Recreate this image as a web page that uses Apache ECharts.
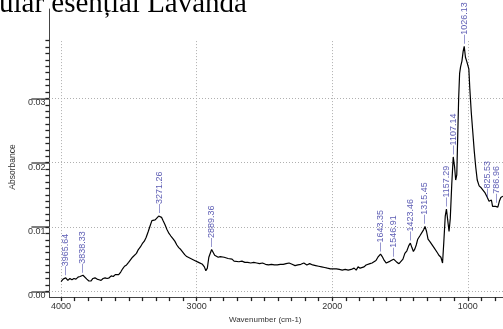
<!DOCTYPE html>
<html>
<head>
<meta charset="utf-8">
<script src="https://cdn.jsdelivr.net/npm/echarts@6/dist/echarts.min.js"></script>
<style>
  html, body { margin: 0; padding: 0; background: #fff; }
  #chart { width: 503px; height: 329px; }
</style>
</head>
<body>
<div id="chart"></div>
<script>
// FTIR spectrum: wavenumber (cm-1) and absorbance
const titleText = 'ular esențial Lavandă';

const wavenumber = [
  4000, 3985, 3975, 3965.64, 3950, 3935, 3920, 3905, 3890, 3875, 3860, 3850, 3838.33, 3825, 3810, 3795,
  3780, 3765, 3750, 3735, 3720, 3705, 3690, 3675, 3660, 3645, 3630, 3615, 3600, 3590, 3575, 3560,
  3546, 3532, 3517, 3502, 3488, 3473, 3459, 3444, 3430, 3415, 3401, 3386, 3372, 3357, 3343, 3330,
  3317, 3306, 3292, 3280, 3271.26, 3259, 3248, 3234, 3219, 3204, 3190, 3175, 3161, 3146, 3132, 3117,
  3103, 3088, 3073, 3059, 3044, 3030, 3015, 3001, 2986, 2972, 2957, 2943, 2932, 2921, 2910, 2889.36,
  2878, 2867, 2855, 2841, 2826, 2812, 2797, 2783, 2768, 2754, 2739, 2724, 2710, 2688, 2666, 2644,
  2623, 2601, 2579, 2557, 2536, 2514, 2492, 2470, 2448, 2427, 2405, 2383, 2361, 2340, 2318, 2296,
  2274, 2253, 2231, 2209, 2187, 2166, 2144, 2122, 2100, 2078, 2056, 2035, 2013, 1991, 1969, 1947,
  1926, 1904, 1882, 1860, 1838, 1823, 1809, 1794, 1780, 1765, 1750, 1736, 1721, 1706, 1692, 1677,
  1663, 1652, 1643.35, 1631, 1616, 1601, 1587, 1572, 1558, 1546.91, 1537, 1522, 1507, 1493, 1478, 1464,
  1449, 1435, 1423.46, 1412, 1401, 1390, 1380, 1369, 1354, 1340, 1325, 1315.45, 1304, 1293, 1278, 1264,
  1249, 1235, 1224, 1213, 1198, 1186, 1177, 1166, 1157.29, 1148, 1138, 1129, 1118, 1107.14, 1097, 1089,
  1081, 1074, 1067, 1060, 1053, 1043, 1034, 1026.13, 1017, 1008, 999, 992, 985, 974, 963, 952,
  941, 930, 916, 901, 887, 872, 858, 843, 825.53, 817, 806, 795, 786.96, 778, 767, 756, 741
];

const absorbance = [
  0.0015, 0.0019, 0.0016, 0.0021, 0.0017, 0.0020, 0.0018, 0.0020, 0.0019, 0.0022, 0.0023, 0.0022, 0.0025, 0.0022, 0.0019, 0.0016,
  0.0016, 0.0020, 0.0021, 0.0019, 0.0018, 0.0017, 0.0020, 0.0021, 0.0020, 0.0021, 0.0024, 0.0023, 0.0026, 0.0027, 0.0026, 0.0030,
  0.0035, 0.0039, 0.0041, 0.0045, 0.0048, 0.0053, 0.0054, 0.0059, 0.0065, 0.0069, 0.0074, 0.0078, 0.0084, 0.0093, 0.0102, 0.0110,
  0.0113, 0.0111, 0.0114, 0.0117, 0.0118, 0.0115, 0.0110, 0.0104, 0.0096, 0.0090, 0.0086, 0.0082, 0.0078, 0.0072, 0.0068, 0.0065,
  0.0062, 0.0057, 0.0054, 0.0053, 0.0051, 0.0049, 0.0048, 0.0047, 0.0045, 0.0044, 0.0042, 0.0038, 0.0032, 0.0036, 0.0053, 0.0065,
  0.0062, 0.0056, 0.0057, 0.0053, 0.0054, 0.0051, 0.0053, 0.0050, 0.0051, 0.0049, 0.0050, 0.0047, 0.0048, 0.0046, 0.0047, 0.0045,
  0.0045, 0.0044, 0.0045, 0.0044, 0.0043, 0.0044, 0.0042, 0.0041, 0.0042, 0.0041, 0.0041, 0.0042, 0.0042, 0.0043, 0.0044, 0.0042,
  0.0040, 0.0041, 0.0042, 0.0044, 0.0041, 0.0043, 0.0041, 0.0040, 0.0039, 0.0038, 0.0037, 0.0036, 0.0035, 0.0035, 0.0035, 0.0034,
  0.0033, 0.0034, 0.0033, 0.0034, 0.0036, 0.0033, 0.0038, 0.0036, 0.0039, 0.0038, 0.0041, 0.0041, 0.0043, 0.0044, 0.0045, 0.0048,
  0.0053, 0.0056, 0.0058, 0.0054, 0.0048, 0.0044, 0.0045, 0.0047, 0.0048, 0.0050, 0.0048, 0.0045, 0.0043, 0.0044, 0.0050, 0.0059,
  0.0063, 0.0071, 0.0075, 0.0068, 0.0062, 0.0066, 0.0072, 0.0081, 0.0086, 0.0089, 0.0096, 0.0101, 0.0093, 0.0081, 0.0077, 0.0075,
  0.0068, 0.0066, 0.0060, 0.0056, 0.0053, 0.0044, 0.0075, 0.0117, 0.0128, 0.0111, 0.0093, 0.0113, 0.0166, 0.0209, 0.0193, 0.0173,
  0.0181, 0.0241, 0.0301, 0.0339, 0.0349, 0.0358, 0.0373, 0.0381, 0.0364, 0.0358, 0.0358, 0.0346, 0.0316, 0.0278, 0.0248, 0.0218,
  0.0193, 0.0173, 0.0164, 0.0161, 0.0158, 0.0153, 0.0147, 0.0140, 0.0142, 0.0132, 0.0130, 0.0132, 0.0134, 0.0131, 0.0140, 0.0146, 0.0148
];

// Labelled peak positions
const peakWavenumbers = [3965.64, 3838.33, 3271.26, 2889.36, 1643.35, 1546.91, 1423.46, 1315.45, 1157.29, 1107.14, 1026.13, 825.53, 786.96];

// Axis tick labels
const xTickLabels = [4000, 3000, 2000, 1000];
const yTickLabels = [0, 0.01, 0.02, 0.03];

const xMinorTicks = [];
for (let w = 800; w <= 4000; w += 100) xMinorTicks.push(w);
const yMinorTicks = [];
for (let i = 0; i <= 39; i++) yMinorTicks.push(+(i * 0.001).toFixed(3));

const spectrum = wavenumber.map((w, i) => [w, absorbance[i]]);
const peaks = peakWavenumbers.map(w => {
  const item = { value: [w, absorbance[wavenumber.indexOf(w)]] };
  // the 825.53 label sits a little to the left so it clears its neighbour
  if (w === 825.53) item.label = { offset: [0, -4] };
  return item;
});

const X_MIN = 740, X_MAX = 4086, Y_MIN = -0.0009, Y_MAX = 0.0439, GRID_TOP_VALUE = 0.039;
const axisFont = '"Liberation Sans", Arial, sans-serif';
const gridStyle = { type: [1, 2], color: '#b0b0b0', width: 1 };

const chart = echarts.init(document.getElementById('chart'), null, { renderer: 'canvas' });

chart.setOption({
  animation: false,
  backgroundColor: '#fff',
  grid: { left: 43, right: 0, top: 9, bottom: 23, containLabel: false },
  graphic: [{
    type: 'text', left: -1, top: -10, z: 10,
    style: { text: titleText, font: '29px "Liberation Serif", "Times New Roman", serif', fill: '#000' }
  }],
  xAxis: [{
    type: 'value', inverse: true, min: X_MIN, max: X_MAX,
    name: 'Wavenumber (cm-1)', nameLocation: 'middle', nameGap: 13,
    nameTextStyle: { fontSize: 8, color: '#333', fontFamily: axisFont, padding: [0, 22, 0, 0] },
    axisLine: { show: true, onZero: false, lineStyle: { color: '#444', width: 1 } },
    axisTick: { show: true, customValues: xMinorTicks, length: 4, lineStyle: { color: '#222', width: 1.3 } },
    axisLabel: {
      customValues: xTickLabels, fontSize: 9, color: '#333', fontFamily: axisFont, margin: 5,
      formatter: v => String(v)
    },
    splitLine: { show: false }
  }],
  yAxis: [{
    type: 'value', min: Y_MIN, max: Y_MAX,
    name: 'Absorbance', nameLocation: 'middle', nameGap: 23, nameRotate: 90,
    nameTextStyle: { fontSize: 8.5, color: '#333', fontFamily: axisFont, padding: [0, 28, 0, 0] },
    axisLine: { show: true, onZero: false, lineStyle: { color: '#444', width: 1 } },
    axisTick: { show: true, customValues: yTickLabels, length: 18, lineStyle: { color: '#555', width: 1.5 } },
    axisLabel: {
      customValues: yTickLabels, fontSize: 9, color: '#333', fontFamily: axisFont, margin: 4,
      verticalAlign: 'top', formatter: v => v.toFixed(2)
    },
    splitLine: { show: false }
  }, {
    type: 'value', min: Y_MIN, max: Y_MAX, position: 'left',
    axisLine: { show: false },
    axisTick: { show: true, customValues: yMinorTicks, length: 4, lineStyle: { color: '#222', width: 1.3 } },
    axisLabel: { show: false },
    splitLine: { show: false }
  }],
  series: [{
    type: 'line',
    data: spectrum,
    showSymbol: false,
    symbol: 'none',
    lineStyle: { color: '#000', width: 1.2 },
    z: 3,
    markLine: {
      silent: true, symbol: ['none', 'none'], label: { show: false }, lineStyle: gridStyle, z: 1,
      data: [
        ...yTickLabels.map(v => ({ yAxis: v })),
        ...xTickLabels.map(v => [{ coord: [v, Y_MIN] }, { coord: [v, GRID_TOP_VALUE] }])
      ]
    }
  }, {
    type: 'scatter',
    data: peaks,
    symbolSize: 1,
    itemStyle: { color: 'rgba(0,0,0,0)' },
    z: 4,
    label: {
      show: true, position: 'top', distance: 2, rotate: 90, align: 'left', verticalAlign: 'middle',
      formatter: p => '\u2014' + p.value[0].toFixed(2),
      color: '#3333a0', fontSize: 9, fontFamily: axisFont
    }
  }]
});
</script>
</body>
</html>
